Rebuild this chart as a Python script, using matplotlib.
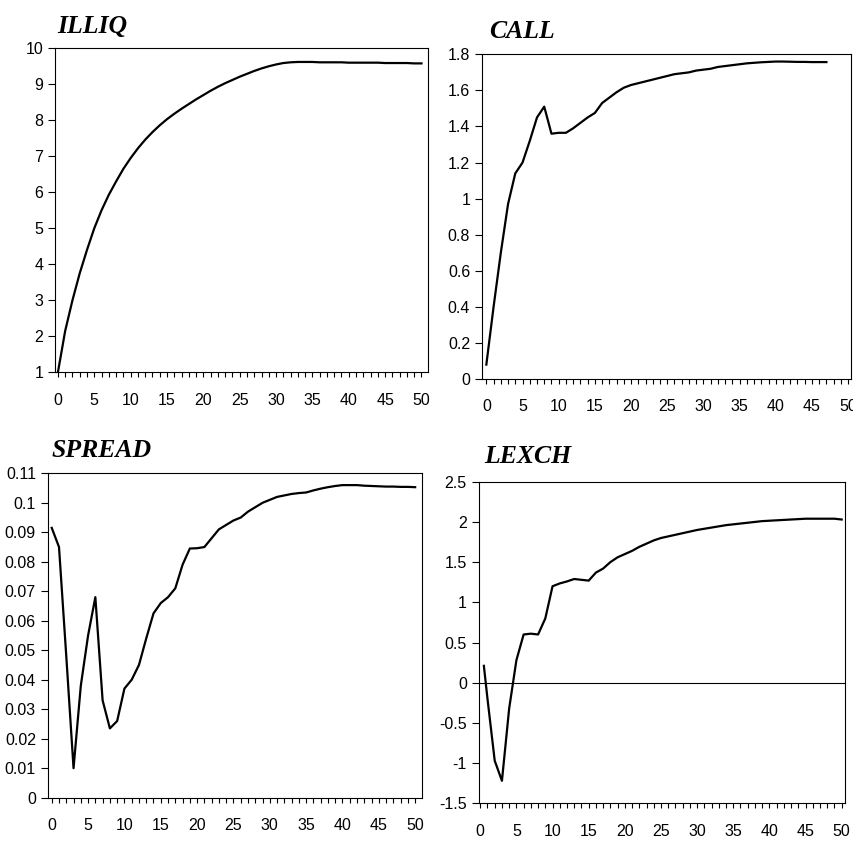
import matplotlib
matplotlib.use('Agg')
import matplotlib.pyplot as plt
from matplotlib.ticker import MultipleLocator, FormatStrFormatter

# impulse responses
illiq_x = list(range(0, 51))
illiq = [1.0, 2.15, 3.0, 3.75, 4.4, 5.0, 5.5, 5.93, 6.3, 6.65,
         6.95, 7.22, 7.46, 7.67, 7.86, 8.03, 8.18, 8.32, 8.45, 8.58,
         8.7, 8.82, 8.93, 9.03, 9.12, 9.21, 9.29, 9.37, 9.44, 9.5,
         9.55, 9.59, 9.61, 9.62, 9.62, 9.62, 9.61, 9.61, 9.61, 9.61,
         9.6, 9.6, 9.6, 9.6, 9.6, 9.59, 9.59, 9.59, 9.59, 9.58, 9.58]

call_x = list(range(0, 48))
call = [0.08, 0.40, 0.70, 0.97, 1.14, 1.2, 1.32, 1.45, 1.51, 1.36,
        1.365, 1.365, 1.39, 1.42, 1.45, 1.475, 1.53, 1.56, 1.59, 1.615,
        1.63, 1.64, 1.65, 1.66, 1.67, 1.68, 1.69, 1.695, 1.70, 1.71,
        1.715, 1.72, 1.73, 1.735, 1.74, 1.745, 1.75, 1.753, 1.756, 1.758,
        1.76, 1.76, 1.759, 1.758, 1.758, 1.757, 1.757, 1.757]

spread_x = list(range(0, 51))
spread = [0.0915, 0.085, 0.048, 0.010, 0.038, 0.055, 0.068, 0.033, 0.0235, 0.026,
          0.037, 0.040, 0.045, 0.054, 0.0625, 0.066, 0.068, 0.071, 0.079, 0.0845,
          0.0846, 0.085, 0.088, 0.091, 0.0925, 0.094, 0.095, 0.097, 0.0985, 0.100,
          0.101, 0.102, 0.1025, 0.103, 0.1033, 0.1035, 0.1042, 0.1048, 0.1053, 0.1057,
          0.106, 0.106, 0.106, 0.1058, 0.1057, 0.1056, 0.1055, 0.1055, 0.1054, 0.1054, 0.1053]

lexch_x = [0.5] + list(range(1, 51))
lexch = [0.21, -0.2, -0.97, -1.22, -0.32, 0.28, 0.6, 0.61, 0.6, 0.8,
         1.2, 1.235, 1.26, 1.29, 1.28, 1.27, 1.37, 1.42, 1.5, 1.56,
         1.6, 1.64, 1.69, 1.73, 1.77, 1.8, 1.82, 1.84, 1.86, 1.88,
         1.9, 1.915, 1.93, 1.945, 1.96, 1.97, 1.98, 1.99, 2.0, 2.01,
         2.015, 2.02, 2.025, 2.03, 2.035, 2.04, 2.04, 2.04, 2.04, 2.04, 2.03]

TICK_FONT = 'Liberation Sans'
TITLE_FONT = 'Liberation Serif'


def panel(fig, rect, x, y, title, title_xy, xlim, ylim, ystep, zero_line=False):
	ax = fig.add_axes(rect)
	ax.plot(x, y, color='black', linewidth=1.6)
	if zero_line:
		ax.axhline(0, color='black', linewidth=0.8)
	ax.set_xlim(*xlim)
	ax.set_ylim(*ylim)
	# 标签每5一个，小刻度每1一个
	ax.xaxis.set_major_locator(MultipleLocator(5))
	ax.xaxis.set_minor_locator(MultipleLocator(1))
	ax.yaxis.set_major_locator(MultipleLocator(ystep))
	ax.yaxis.set_major_formatter(FormatStrFormatter('%g'))
	ax.tick_params(axis='x', which='both', direction='out', length=3.6, width=0.8, pad=11)
	ax.tick_params(axis='y', which='major', direction='out', length=5, width=0.8, pad=3.5)
	ax.tick_params(axis='both', labelsize=11.5, colors='black')
	for lab in ax.get_xticklabels() + ax.get_yticklabels():
		lab.set_fontfamily(TICK_FONT)
	for sp in ax.spines.values():
		sp.set_linewidth(0.8)
	fig.text(title_xy[0] / 854, 1 - title_xy[1] / 841, title, fontsize=18.5,
			 family=TITLE_FONT, fontweight='bold', fontstyle='italic',
			 ha='left', va='baseline')
	return ax


fig = plt.figure(figsize=(8.54, 8.41), dpi=100)
fig.patch.set_facecolor('white')

panel(fig, [0.0644, 0.5573, 0.4368, 0.3853], illiq_x, illiq, 'ILLIQ', (57, 33),
	  (-0.4, 50.9), (1, 10), 1)
panel(fig, [0.5644, 0.5493, 0.4321, 0.3861], call_x, call, 'CALL', (489, 38),
	  (-0.6, 50.4), (0, 1.8), 0.2)
panel(fig, [0.0559, 0.0515, 0.4379, 0.3857], spread_x, spread, 'SPREAD', (52, 457),
	  (-0.55, 50.9), (0, 0.11), 0.01)
panel(fig, [0.5605, 0.0448, 0.4293, 0.3824], lexch_x, lexch, 'LEXCH', (484, 463),
	  (-0.22, 50.5), (-1.5, 2.5), 0.5, zero_line=True)

fig.savefig('out.png', dpi=100)
